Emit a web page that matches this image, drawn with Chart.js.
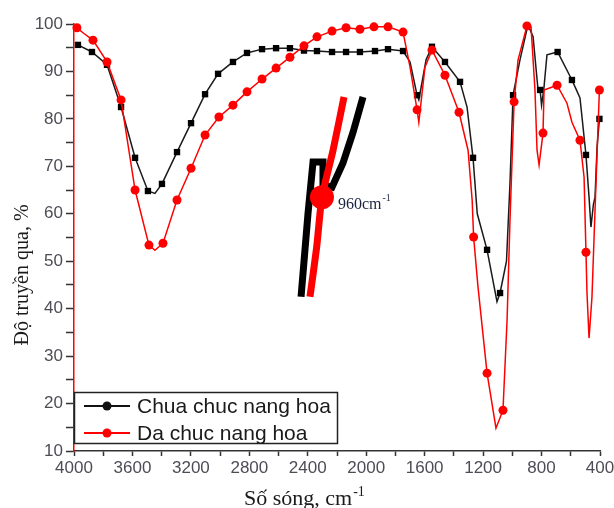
<!DOCTYPE html>
<html>
<head>
<meta charset="utf-8">
<script src="https://cdn.jsdelivr.net/npm/chart.js@4.4.0/dist/chart.umd.min.js"></script>
<style>
  html, body { margin: 0; padding: 0; background: #fff; }
  #wrap { width: 614px; height: 508px; }
</style>
</head>
<body>
<div id="wrap"><canvas id="ftir" width="614" height="508"></canvas></div>
<script>
/* data: wavenumber (cm-1) / transmittance (%) */

const seriesNames = ["Chua chuc nang hoa", "Da chuc nang hoa"];

// black: before functionalisation
const blackWave = [3973, 3877, 3774, 3678, 3582, 3494, 3446, 3398, 3295, 3199, 3103, 3014, 2912, 2816, 2713,
    2617, 2522, 2426, 2337, 2234, 2138, 2043, 1940, 1851, 1748, 1700, 1652, 1640, 1590, 1550,
    1461, 1358, 1310, 1269, 1240, 1173, 1105, 1084, 1040, 1016, 995, 948, 893, 858, 824,
    810, 800, 785, 763, 690, 592, 560, 537, 496, 475, 462, 445, 434, 420, 404];
const blackT = [95.6, 94.1, 91.4, 82.5, 71.8, 64.8, 64.3, 66.3, 73.0, 79.1, 85.2, 89.5, 92.0, 93.9, 94.7,
    94.9, 94.9, 94.4, 94.3, 94.1, 94.1, 94.1, 94.3, 94.7, 94.3, 92.0, 85.0, 84.0, 92.5, 95.2,
    92.0, 87.8, 82.5, 71.8, 60.0, 52.4, 41.5, 43.3, 50.0, 66.5, 85.0, 92.4, 99.8, 97.3, 86.1,
    86.1, 82.9, 86.1, 93.5, 94.1, 88.2, 86.0, 84.4, 72.4, 63.5, 57.2, 62.0, 63.5, 74.1, 80.0];
const blackMarks = [3973, 3877, 3774, 3678, 3582, 3494, 3398, 3295, 3199, 3103, 3014, 2912, 2816, 2713,
    2617, 2522, 2426, 2337, 2234, 2138, 2043, 1940, 1851, 1748, 1652, 1550, 1461, 1358, 1269,
    1173, 1084, 995, 810, 690, 592, 496, 404];

// red: after functionalisation
const redWave = [3980, 3932, 3870, 3774, 3678, 3582, 3487, 3446, 3391, 3295, 3199, 3103, 3008, 2912, 2816,
    2713, 2617, 2522, 2426, 2337, 2234, 2138, 2043, 1947, 1851, 1748, 1700, 1652, 1640, 1598,
    1550, 1461, 1365, 1303, 1275, 1265, 1235, 1173, 1112, 1064, 1036, 1016, 988, 961, 900,
    872, 845, 831, 817, 790, 783, 694, 626, 592, 537, 509, 496, 489, 475, 455,
    434, 420, 404];
const redT = [99.2, 98.0, 96.6, 92.0, 84.0, 65.0, 53.4, 52.3, 53.8, 62.9, 69.6, 76.6, 80.4, 82.9, 85.7,
    88.4, 90.7, 93.0, 95.4, 97.3, 98.5, 99.2, 98.9, 99.4, 99.4, 98.3, 90.9, 81.9, 79.3, 90.9,
    94.5, 89.2, 81.4, 73.4, 62.9, 55.1, 44.6, 26.4, 14.8, 18.6, 37.6, 58.7, 83.6, 92.4, 99.6,
    99.4, 86.1, 73.4, 70.3, 77.0, 86.1, 87.1, 83.3, 79.3, 75.5, 67.7, 51.9, 43.3, 33.8, 42.4,
    60.8, 72.8, 86.1];
const redMarks = [3980, 3870, 3774, 3678, 3582, 3487, 3391, 3295, 3199, 3103, 3008, 2912, 2816, 2713,
    2617, 2522, 2426, 2337, 2234, 2138, 2043, 1947, 1851, 1748, 1652, 1550, 1461, 1365, 1265,
    1173, 1064, 988, 900, 790, 694, 537, 496, 404];

// magnified inset around the 960 cm-1 band (drawn in plot coordinates)
const insetBlackWave = [2446, 2398, 2364, 2296, 2296, 2234, 2159, 2090, 2022];
const insetBlackT = [42.5, 60.2, 70.9, 70.9, 66.1, 65.6, 70.7, 77.2, 84.6];
const insetRedWave = [2385, 2339, 2303, 2227, 2152];
const insetRedT = [42.5, 53.0, 63.5, 73.4, 84.6];
const peakWave = [2303];
const peakT = [63.5];
const peakLabel = "960cm";

const xMin = 400, xMax = 4000;
const yMin = 10, yMax = 100;

function toPoints(xs, ys) {
    return xs.map((x, i) => ({ x: x, y: ys[i] }));
}

//custom legend box, axis titles and the 960 label
const extras = {
    id: "extras",
    afterDraw(chart) {
        const ctx = chart.ctx;
        ctx.save();

        // legend
        ctx.fillStyle = "#fff";
        ctx.fillRect(74, 392, 264, 52);
        ctx.strokeStyle = "#222";
        ctx.lineWidth = 1.5;
        ctx.strokeRect(74.5, 392.5, 263, 51);
        const rows = [{ c: "#111", y: 406 }, { c: "#ff0000", y: 433 }];
        rows.forEach((r, i) => {
            ctx.strokeStyle = r.c;
            ctx.lineWidth = 2;
            ctx.beginPath();
            ctx.moveTo(84, r.y);
            ctx.lineTo(130, r.y);
            ctx.stroke();
            ctx.fillStyle = r.c;
            ctx.beginPath();
            ctx.arc(107, r.y, 4.5, 0, Math.PI * 2);
            ctx.fill();
            ctx.fillStyle = "#1a1a1a";
            ctx.font = "21px 'Liberation Sans'";
            ctx.textBaseline = "middle";
            ctx.textAlign = "left";
            ctx.fillText(seriesNames[i], 137, r.y + 1);
        });

        // x title
        ctx.fillStyle = "#1a1a1a";
        ctx.textBaseline = "alphabetic";
        ctx.font = "22px 'Liberation Serif'";
        const xt = "Số sóng, cm";
        ctx.fillText(xt, 244, 505);
        const w = ctx.measureText(xt).width;
        ctx.font = "14px 'Liberation Serif'";
        ctx.fillText("-1", 244 + w + 1, 496);

        // y title
        ctx.translate(23, 275);
        ctx.rotate(-Math.PI / 2);
        ctx.textAlign = "center";
        ctx.textBaseline = "middle";
        ctx.font = "20px 'Liberation Serif'";
        ctx.fillText("Độ truyền qua, %", 0, 0);
        ctx.setTransform(1, 0, 0, 1, 0, 0);

        // inset label
        const px = chart.scales.x.getPixelForValue(peakWave[0]);
        const py = chart.scales.y.getPixelForValue(peakT[0]);
        ctx.fillStyle = "#1b2440";
        ctx.textAlign = "left";
        ctx.textBaseline = "alphabetic";
        ctx.font = "16px 'Liberation Serif'";
        ctx.fillText(peakLabel, px + 16, py + 12);
        const lw = ctx.measureText(peakLabel).width;
        ctx.font = "10px 'Liberation Serif'";
        ctx.fillText("-1", px + 16 + lw + 1, py + 4);

        ctx.restore();
    }
};

function drawFtirChart() {
    const canvas = document.getElementById("ftir");

    const data = {
        datasets: [
            {
                data: toPoints(peakWave, peakT),
                showLine: false,
                pointRadius: 12,
                pointBackgroundColor: "#ff0000",
                pointBorderWidth: 0,
                order: 0
            },
            {
                data: toPoints(insetRedWave, insetRedT),
                borderColor: "#ff0000",
                borderWidth: 7,
                pointRadius: 0,
                tension: 0.2,
                order: 1
            },
            {
                data: toPoints(insetBlackWave, insetBlackT),
                borderColor: "#000",
                borderWidth: 7,
                borderJoinStyle: "miter",
                pointRadius: 0,
                tension: 0,
                order: 2
            },
            {
                label: seriesNames[1],
                data: toPoints(redWave, redT),
                borderColor: "#ff0000",
                borderWidth: 1.5,
                backgroundColor: "#ff0000",
                pointStyle: "circle",
                pointRadius: c => redMarks.includes(c.raw.x) ? 4.5 : 0,
                pointBorderWidth: 0,
                tension: 0,
                clip: false,
                order: 3
            },
            {
                label: seriesNames[0],
                data: toPoints(blackWave, blackT),
                borderColor: "#1a1a1a",
                borderWidth: 1.5,
                backgroundColor: "#000",
                pointStyle: "rect",
                pointRadius: c => blackMarks.includes(c.raw.x) ? 4.5 : 0,
                pointBorderWidth: 0,
                tension: 0,
                clip: false,
                order: 4
            }
        ]
    };

    const config = {
        type: "line",
        data: data,
        options: {
            responsive: false,
            animation: false,
            layout: { padding: { top: 24, right: 14, left: 0, bottom: 0 } },
            plugins: {
                legend: { display: false },
                tooltip: { enabled: false }
            },
            scales: {
                x: {
                    type: "linear",
                    reverse: true,
                    min: xMin,
                    max: xMax,
                    grid: { drawOnChartArea: false, tickLength: 5, tickColor: "#333", tickWidth: 1.5 },
                    border: { color: "#333", width: 1.5 },
                    ticks: {
                        stepSize: 200,
                        autoSkip: false,
                        maxRotation: 0,
                        padding: 2,
                        color: "#4d4d55",
                        font: { family: "'Liberation Sans'", size: 17 },
                        callback: v => v % 400 === 0 ? String(v) : ""
                    },
                    afterFit: s => { s.height = 57; s.paddingLeft = 0; s.paddingRight = 0; }
                },
                y: {
                    min: yMin,
                    max: yMax,
                    grid: { drawOnChartArea: false, tickLength: 8, tickColor: "#333", tickWidth: 1.5 },
                    border: { color: "#ff0000", width: 1.5 },
                    ticks: {
                        stepSize: 5,
                        autoSkip: false,
                        padding: 3,
                        color: "#4d4d55",
                        font: { family: "'Liberation Sans'", size: 17 },
                        callback: v => v % 10 === 0 ? String(v) : ""
                    },
                    afterFit: s => { s.width = 74; s.paddingTop = 0; s.paddingBottom = 0; }
                }
            }
        },
        plugins: [extras]
    };

    new Chart(canvas.getContext("2d"), config);
}

drawFtirChart();
</script>
</body>
</html>
